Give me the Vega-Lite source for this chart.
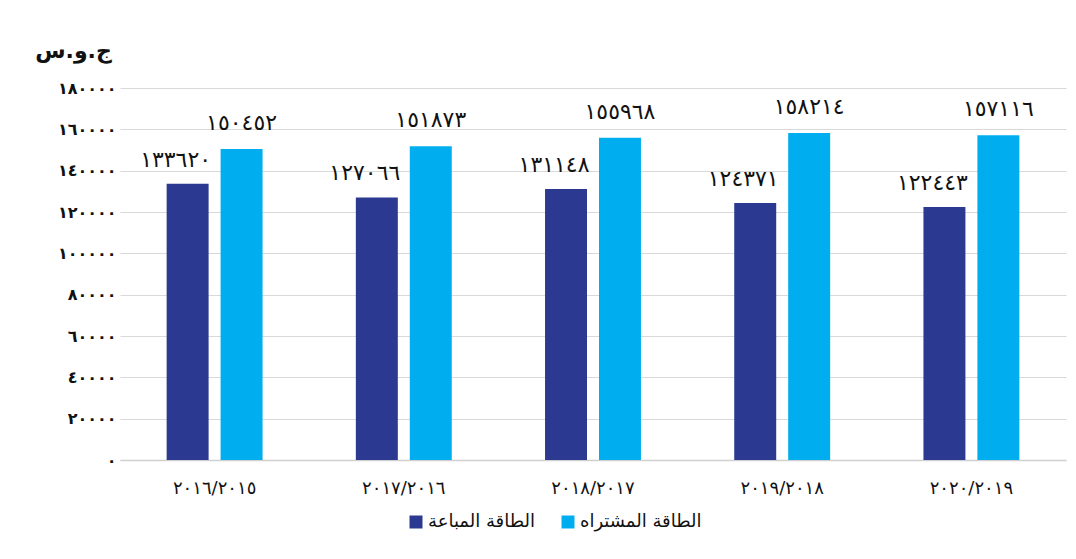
{
  "$schema": "https://vega.github.io/schema/vega-lite/v6.json",
  "width": 946,
  "height": 372,
  "autosize": {"type": "none"},
  "padding": {"left": 120, "top": 88, "right": 10, "bottom": 99},
  "background": "white",
  "config": {
    "view": {"stroke": null},
    "font": "DejaVu Sans"
  },
  "data": {
    "values": [
      {"year": "٢٠١٦/٢٠١٥", "series": "الطاقة المباعة", "value": 133620, "lbl": "١٣٣٦٢٠"},
      {"year": "٢٠١٦/٢٠١٥", "series": "الطاقة المشتراه", "value": 150452, "lbl": "١٥٠٤٥٢"},
      {"year": "٢٠١٧/٢٠١٦", "series": "الطاقة المباعة", "value": 127066, "lbl": "١٢٧٠٦٦"},
      {"year": "٢٠١٧/٢٠١٦", "series": "الطاقة المشتراه", "value": 151873, "lbl": "١٥١٨٧٣"},
      {"year": "٢٠١٨/٢٠١٧", "series": "الطاقة المباعة", "value": 131148, "lbl": "١٣١١٤٨"},
      {"year": "٢٠١٨/٢٠١٧", "series": "الطاقة المشتراه", "value": 155968, "lbl": "١٥٥٩٦٨"},
      {"year": "٢٠١٩/٢٠١٨", "series": "الطاقة المباعة", "value": 124371, "lbl": "١٢٤٣٧١"},
      {"year": "٢٠١٩/٢٠١٨", "series": "الطاقة المشتراه", "value": 158214, "lbl": "١٥٨٢١٤"},
      {"year": "٢٠٢٠/٢٠١٩", "series": "الطاقة المباعة", "value": 122443, "lbl": "١٢٢٤٤٣"},
      {"year": "٢٠٢٠/٢٠١٩", "series": "الطاقة المشتراه", "value": 157116, "lbl": "١٥٧١١٦"}
    ]
  },
  "encoding": {
    "x": {
      "field": "year", "type": "nominal", "sort": null,
      "scale": {"paddingInner": 0.493, "paddingOuter": 0.2465},
      "axis": {
        "title": null, "labelAngle": 0, "ticks": false,
        "domainColor": "#d0d0d0", "domainWidth": 1.5,
        "labelFontSize": 18, "labelColor": "#111111", "labelPadding": 19
      }
    },
    "xOffset": {
      "field": "series", "type": "nominal",
      "sort": ["الطاقة المباعة", "الطاقة المشتراه"],
      "scale": {"paddingInner": 0.222, "paddingOuter": 0}
    },
    "y": {
      "field": "value", "type": "quantitative",
      "scale": {"domain": [0, 180000], "nice": false},
      "axis": {
        "title": "ج.و.س", "titleAngle": 0, "titleX": -47, "titleY": -38,
        "titleAlign": "center", "titleBaseline": "middle",
        "titleFontSize": 22, "titleFontWeight": "bold", "titleColor": "#111111",
        "values": [0, 20000, 40000, 60000, 80000, 100000, 120000, 140000, 160000, 180000],
        "labelExpr": "replace(replace(replace(replace(replace(replace(replace(replace(replace(replace(toString(datum.value), /0/g, '٠'), /1/g, '١'), /2/g, '٢'), /3/g, '٣'), /4/g, '٤'), /5/g, '٥'), /6/g, '٦'), /7/g, '٧'), /8/g, '٨'), /9/g, '٩')",
        "labelFontSize": 16, "labelFontWeight": "bold", "labelColor": "#111111", "labelPadding": 4,
        "ticks": false, "domain": false,
        "gridColor": "#d9d9d9", "gridWidth": 1
      }
    }
  },
  "layer": [
    {
      "mark": {"type": "bar"},
      "encoding": {
        "color": {
          "field": "series", "type": "nominal",
          "scale": {"domain": ["الطاقة المباعة", "الطاقة المشتراه"], "range": ["#2b3990", "#00aeef"]},
          "legend": {
            "title": null, "orient": "none", "direction": "horizontal",
            "legendX": 287, "legendY": 425,
            "symbolType": "square", "symbolSize": 169, "symbolStrokeWidth": 0,
            "labelFontSize": 18, "labelColor": "#111111", "labelOffset": 3,
            "columnPadding": 24
          }
        }
      }
    },
    {
      "transform": [{"filter": "datum.series == 'الطاقة المباعة'"}],
      "mark": {"type": "text", "baseline": "bottom", "dy": -12, "dx": -12, "fontSize": 22, "color": "#111111"},
      "encoding": {"text": {"field": "lbl"}}
    },
    {
      "transform": [{"filter": "datum.series == 'الطاقة المشتراه'"}],
      "mark": {"type": "text", "baseline": "bottom", "dy": -14, "fontSize": 22, "color": "#111111"},
      "encoding": {"text": {"field": "lbl"}}
    }
  ]
}
